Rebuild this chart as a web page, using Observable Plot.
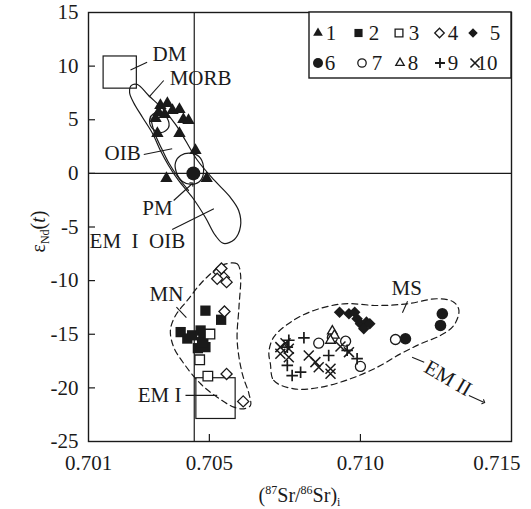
<!DOCTYPE html>
<html><head><meta charset="utf-8">
<script src="https://cdn.jsdelivr.net/npm/d3@7"></script>
<script src="https://cdn.jsdelivr.net/npm/@observablehq/plot@0.6"></script>
<style>body{margin:0;background:#fff} svg{display:block}</style>
</head><body><div id="chart"></div>
<script>
// ---------- data ----------
const xDomain = [0.701, 0.715];
const yDomain = [-25, 15];
const xTicks = [0.701, 0.705, 0.710, 0.715];
const yTicks = [15, 10, 5, 0, -5, -10, -15, -20, -25];
const bulkSr = [0.7045];
const bulkNd = [0];

// sample groups: [87Sr/86Sr(i), εNd(t)]
const g1 = [[0.70338,6.33],[0.70361,6.52],[0.70378,5.86],[0.70401,5.96],[0.70332,5.68],[0.70352,5.49],
            [0.70414,5.03],[0.70431,4.93],[0.70328,3.72],[0.70401,3.72],[0.70454,2.14],[0.70358,-0.48],
            [0.70491,-0.48],[0.70322,5.12]];
const g2 = [[0.70487,-12.8],[0.70539,-13.65],[0.70405,-14.8],[0.70427,-15.4],[0.70443,-15.1],[0.70471,-14.65],
            [0.7048,-15.27],[0.70487,-16.2],[0.70462,-16.3],[0.70476,-15.74]];
const g3 = [[0.70502,-14.98],[0.70468,-17.38],[0.70495,-18.9]];
const g4 = [[0.7055,-12.88],[0.70557,-18.7],[0.70612,-21.26],[0.70531,-9.2],[0.70548,-9.7],[0.70526,-9.83],
            [0.70557,-10.14],[0.7054,-8.87]];
const g5 = [[0.70931,-12.94],[0.70962,-13.09],[0.70981,-12.94],[0.70989,-13.56],[0.710,-14.02],[0.7102,-13.87],
            [0.71011,-14.49],[0.71031,-14.02]];
const g6 = [[0.71271,-13.09],[0.71265,-14.18],[0.71149,-15.42]];
const g7 = [[0.71116,-15.49],[0.70862,-15.83],[0.70951,-15.65],[0.710,-18.0],[0.70907,-15.33]];
const g8 = [[0.70907,-14.71],[0.70914,-15.11],[0.70901,-15.58]];
const g9 = [[0.70763,-15.56],[0.70813,-15.33],[0.70758,-17.91],[0.70774,-18.85],[0.70802,-18.54],
            [0.70895,-16.98],[0.70956,-16.5],[0.70989,-17.28],[0.70758,-16.2]];
const g10 = [[0.70735,-16.2],[0.70752,-15.83],[0.70763,-16.35],[0.70735,-16.82],[0.70763,-17.14],[0.70829,-16.98],
             [0.70851,-17.6],[0.70862,-18.07],[0.70901,-18.22],[0.70901,-18.69],[0.70934,-16.14],[0.70962,-16.67]];
const pmPoint = [[0.70447, 0]];

// reservoir boxes
const dmBox = [{x1:0.7015, x2:0.7026, y1:7.9, y2:10.9}];
const em1Box = [{x1:0.70457, x2:0.70587, y1:-19.1, y2:-22.9}];

// field outlines
const oibField = [[0.70242,8.2],[0.70262,8.29],[0.70299,7.26],[0.70348,5.96],[0.70388,4.56],[0.70421,3.07],
  [0.70461,1.2],[0.70517,-0.66],[0.70567,-2.15],[0.70597,-3.46],[0.70603,-4.95],[0.70583,-6.16],[0.70547,-6.53],
  [0.7052,-5.79],[0.70487,-4.11],[0.70444,-2.25],[0.70398,-0.66],[0.70365,0.74],[0.70338,2.14],[0.70312,3.72],
  [0.70279,5.21],[0.70249,6.61],[0.70236,7.54]];
const morbInner = [[0.70305,5.31],[0.70318,3.81],[0.70342,2.32],[0.70365,1.02],[0.70395,-0.29],[0.70431,-1.59]];
const smallLoop = [[0.70312,5.49],[0.70338,5.68],[0.70361,5.12],[0.70365,4.28],[0.70342,3.81],[0.70315,4.09],[0.70302,4.84]];
const pmField = [[0.70405,1.67],[0.70444,1.86],[0.70471,1.39],[0.70481,0.27],[0.70471,-0.66],[0.70444,-1.03],
  [0.70411,-0.75],[0.70391,0.08],[0.70388,1.02]];
const mnField = [[0.70537,-8.59],[0.70592,-8.43],[0.70603,-9.36],[0.70598,-12.47],[0.70592,-15.58],[0.70609,-18.68],
  [0.70631,-20.55],[0.70636,-21.64],[0.70614,-21.95],[0.70581,-21.8],[0.70526,-20.87],[0.70471,-19.62],
  [0.70416,-17.75],[0.70382,-16.2],[0.70371,-14.65],[0.70388,-13.25],[0.70427,-11.85],[0.70471,-10.29],[0.7051,-9.21]];
const msField = [[0.70702,-17.75],[0.70713,-19.31],[0.7078,-20.09],[0.70868,-19.94],[0.70967,-19.15],[0.71056,-18.07],
  [0.71133,-16.82],[0.71199,-15.89],[0.71265,-15.11],[0.71309,-14.18],[0.71326,-12.78],[0.71309,-12.01],
  [0.71254,-11.69],[0.71155,-12.16],[0.71056,-12.32],[0.70945,-12.16],[0.70846,-12.78],[0.70769,-13.87],
  [0.70713,-15.27],[0.70697,-16.67]];

// annotation labels and leader lines
const labelText = ["DM", "MORB", "OIB", "PM", "EM\u2002I\u2002OIB", "MN", "MS", "EM I"];
const labelSr   = [0.70368, 0.70471, 0.70213, 0.70328, 0.70262, 0.70358, 0.71153, 0.70335];
const labelNd   = [11.09, 8.85, 1.86, -3.27, -6.35, -11.3, -10.73, -20.7];
const leaders = [
  {x1:0.70239, y1:9.64, x2:0.70294, y2:10.37},
  {x1:0.70300, y1:7.10, x2:0.70349, y2:8.66},
  {x1:0.70283, y1:1.76, x2:0.70377, y2:2.29},
  {x1:0.70377, y1:-5.23, x2:0.70515, y2:-3.30},
  {x1:0.70391, y1:-12.46, x2:0.70424, y2:-13.44},
  {x1:0.71156, y1:-11.93, x2:0.71139, y2:-13.0},
  {x1:0.70421, y1:-20.7, x2:0.70526, y2:-20.7},
  {x1:0.71171, y1:-17.14, x2:0.71211, y2:-17.6}
];
const arrows = [
  {x1:0.70382, y1:-2.53, x2:0.70443, y2:-0.97},
  {x1:0.71359, y1:-20.71, x2:0.71408, y2:-21.33}
];
const em2Label = [{text:"EM II", x:0.7129, y:-19.1}];

const legendLabels = ["1","2","3","4","5","6","7","8","9","10"];

// ---------- styles ----------
const INK = "#1a1a1a";
const FONT = "Liberation Serif, Times New Roman, serif";
const W = 531, H = 509, ML = 88, MR = 20, MT = 12, MB = 68;
const tickLenX = (xDomain[1]-xDomain[0]) * 7 / (W-ML-MR);
const tickLenY = (yDomain[1]-yDomain[0]) * 7 / (H-MT-MB);
const px = {x: d => d[0], y: d => d[1]};
const field = {...px, stroke: INK, strokeWidth: 1.2};
const dashed = {...px, curve: "catmull-rom-closed", stroke: INK, strokeWidth: 1.2, strokeDasharray: "6,4"};
const fmtX = d3.format(".3f");

const chart = Plot.plot({
  width: W, height: H, marginLeft: ML, marginRight: MR, marginTop: MT, marginBottom: MB,
  x: {domain: xDomain},
  y: {domain: yDomain},
  style: {fontFamily: FONT, background: "#fff", color: INK},
  marks: [
    Plot.ruleY(bulkNd, {stroke: INK, strokeWidth: 1.2}),
    Plot.ruleX(bulkSr, {stroke: INK, strokeWidth: 1.2}),
    Plot.ruleY(yTicks.slice(1, -1), {x1: xDomain[0], x2: xDomain[0] + tickLenX, stroke: INK, strokeWidth: 1.2}),
    Plot.ruleX(xTicks.slice(1, -1), {y1: yDomain[0], y2: yDomain[0] + tickLenY, stroke: INK, strokeWidth: 1.2}),
    Plot.axisX({ticks: xTicks.slice(0, -1), tickFormat: fmtX, tickSize: 0, tickPadding: 14, fontSize: 21, label: null}),
    Plot.axisX({ticks: xTicks.slice(-1), tickFormat: fmtX, tickSize: 0, tickPadding: 14, fontSize: 21, label: null,
                textAnchor: "end", dx: 9}),
    Plot.axisY({ticks: yTicks, tickFormat: d => String(d), tickSize: 0, tickPadding: 10, fontSize: 21, label: null}),
    Plot.rect(dmBox, {x1:"x1", x2:"x2", y1:"y1", y2:"y2", fill: "none", stroke: INK, strokeWidth: 1.2}),
    Plot.rect(em1Box, {x1:"x1", x2:"x2", y1:"y1", y2:"y2", fill: "none", stroke: INK, strokeWidth: 1.2}),
    Plot.line(oibField, {...field, curve: "catmull-rom-closed"}),
    Plot.line(morbInner, {...field, curve: "catmull-rom"}),
    Plot.line(smallLoop, {...field, curve: "catmull-rom-closed"}),
    Plot.line(pmField, {...field, curve: "catmull-rom-closed"}),
    Plot.line(mnField, dashed),
    Plot.line(msField, dashed),
    Plot.link(leaders, {x1:"x1", y1:"y1", x2:"x2", y2:"y2", stroke: INK, strokeWidth: 1.1}),
    Plot.link(arrows, {x1:"x1", y1:"y1", x2:"x2", y2:"y2", stroke: INK, strokeWidth: 1.1, markerEnd: "arrow"}),
    Plot.text(labelText, {x: (d, i) => labelSr[i], y: (d, i) => labelNd[i], text: d => d, fontSize: 21, fill: INK}),
    Plot.text(em2Label, {x: "x", y: "y", text: "text", rotate: 30, fontSize: 21, fill: INK}),
    Plot.dot(pmPoint, {...px, r: 7, fill: INK}),
    Plot.dot(g1, {...px, symbol: "triangle", r: 4.6, fill: INK}),
    Plot.dot(g2, {...px, symbol: "square", r: 5.8, fill: INK}),
    Plot.dot(g3, {...px, symbol: "square", r: 5.4, fill: "#fff", stroke: INK, strokeWidth: 1.3}),
    Plot.dot(g4, {...px, symbol: "diamond2", r: 5, fill: "#fff", stroke: INK, strokeWidth: 1.3}),
    Plot.dot(g5, {...px, symbol: "diamond2", r: 5.2, fill: INK}),
    Plot.dot(g6, {...px, symbol: "circle", r: 5.8, fill: INK}),
    Plot.dot(g7, {...px, symbol: "circle", r: 5, fill: "#fff", stroke: INK, strokeWidth: 1.3}),
    Plot.dot(g8, {...px, symbol: "triangle2", r: 4.6, fill: "#fff", stroke: INK, strokeWidth: 1.3}),
    Plot.dot(g9, {...px, symbol: "plus", r: 3.8, fill: "none", stroke: INK, strokeWidth: 1.7}),
    Plot.dot(g10, {...px, symbol: "times", r: 4.6, fill: "none", stroke: INK, strokeWidth: 1.5}),
    Plot.frame({stroke: INK, strokeWidth: 1.4})
  ]
});
document.getElementById("chart").appendChild(chart);

// ---------- axis titles and legend ----------
const svg = d3.select(chart);
const sx = chart.scale("x"), sy = chart.scale("y");
const fx0 = sx.apply(xDomain[0]), fx1 = sx.apply(xDomain[1]);
const fy0 = sy.apply(yDomain[1]), fy1 = sy.apply(yDomain[0]);

const xl = svg.append("text").attr("x", (fx0 + fx1) / 2).attr("y", fy1 + 61)
  .attr("text-anchor", "middle").attr("font-family", FONT).attr("font-size", 20).attr("fill", INK);
xl.append("tspan").text("(");
xl.append("tspan").attr("font-size", 12).attr("dy", -8).text("87");
xl.append("tspan").attr("dy", 8).text("Sr/");
xl.append("tspan").attr("font-size", 12).attr("dy", -8).text("86");
xl.append("tspan").attr("dy", 8).text("Sr)");
xl.append("tspan").attr("font-size", 12).attr("dy", 4).text("i");

const yl = svg.append("text").attr("transform", `translate(${fx0 - 43},${(fy0 + fy1) / 2 + 5}) rotate(-90)`)
  .attr("text-anchor", "middle").attr("font-family", FONT).attr("font-size", 20).attr("fill", INK);
yl.append("tspan").text("ε");
yl.append("tspan").attr("font-size", 12).attr("dy", 4).text("Nd");
yl.append("tspan").attr("dy", -4).text("(");
yl.append("tspan").attr("font-style", "italic").text("t");
yl.append("tspan").text(")");

// legend box in the top-right corner of the frame
const lw = 202, lh = 66;
const lg = svg.append("g").attr("transform", `translate(${fx1 - lw},${fy0})`);
lg.append("rect").attr("width", lw).attr("height", lh).attr("fill", "#fff").attr("stroke", INK).attr("stroke-width", 1.4);
const legendSyms = [
  {s: d3.symbolTriangle, r: 3.6, fill: INK},
  {s: d3.symbolSquare, r: 4.6, fill: INK},
  {s: d3.symbolSquare, r: 4.4, fill: "#fff", stroke: INK},
  {s: d3.symbolDiamond2, r: 4.3, fill: "#fff", stroke: INK},
  {s: d3.symbolDiamond2, r: 4.3, fill: INK},
  {s: d3.symbolCircle, r: 5, fill: INK},
  {s: d3.symbolCircle, r: 4.2, fill: "#fff", stroke: INK},
  {s: d3.symbolTriangle2, r: 4, fill: "#fff", stroke: INK},
  {s: d3.symbolPlus, r: 3.3, fill: "none", stroke: INK, sw: 1.8},
  {s: d3.symbolTimes, r: 4.2, fill: "none", stroke: INK, sw: 1.6}
];
const symX = [9, 49.5, 90, 130.5, 164, 9, 53, 91, 131, 166];
const txtX = [22, 65, 105, 144, 186, 21, 68, 104, 144, 178];
const rowY = [21, 51];
legendLabels.forEach((lab, i) => {
  const row = i < 5 ? 0 : 1;
  const m = legendSyms[i];
  lg.append("path").attr("d", d3.symbol(m.s, Math.PI * m.r * m.r)())
    .attr("transform", `translate(${symX[i]},${rowY[row]})`)
    .attr("fill", m.fill).attr("stroke", m.stroke || "none").attr("stroke-width", m.sw || 1.3);
  lg.append("text").attr("x", txtX[i]).attr("y", rowY[row]).attr("dy", "0.35em")
    .attr("font-family", FONT).attr("font-size", 21).attr("fill", INK).text(lab);
});
</script>
</body></html>
